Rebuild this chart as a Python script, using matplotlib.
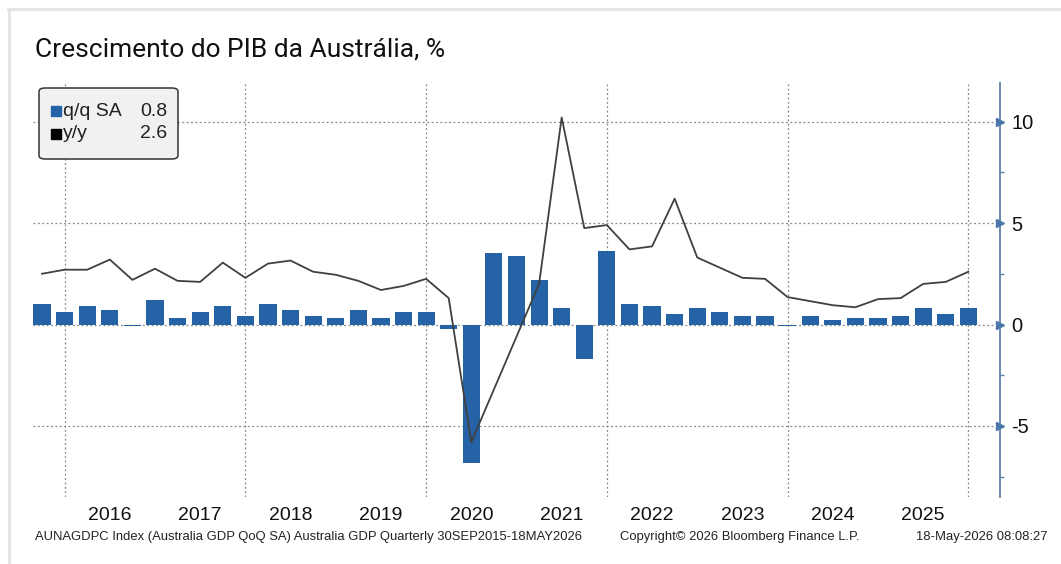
import numpy as np
import matplotlib
matplotlib.use("Agg")
import matplotlib.pyplot as plt
from matplotlib.patches import FancyBboxPatch
from matplotlib.lines import Line2D

plt.rcParams["axes.unicode_minus"] = False

# quarterly data, Q3 2015 .. Q4 2025 (plotted at quarter end)
quarters = ["2015Q3", "2015Q4",
            "2016Q1", "2016Q2", "2016Q3", "2016Q4",
            "2017Q1", "2017Q2", "2017Q3", "2017Q4",
            "2018Q1", "2018Q2", "2018Q3", "2018Q4",
            "2019Q1", "2019Q2", "2019Q3", "2019Q4",
            "2020Q1", "2020Q2", "2020Q3", "2020Q4",
            "2021Q1", "2021Q2", "2021Q3", "2021Q4",
            "2022Q1", "2022Q2", "2022Q3", "2022Q4",
            "2023Q1", "2023Q2", "2023Q3", "2023Q4",
            "2024Q1", "2024Q2", "2024Q3", "2024Q4",
            "2025Q1", "2025Q2", "2025Q3", "2025Q4"]
qoq = [1.0, 0.6,
       0.9, 0.7, -0.05, 1.2,
       0.3, 0.6, 0.9, 0.4,
       1.0, 0.7, 0.4, 0.3,
       0.7, 0.3, 0.6, 0.6,
       -0.2, -6.8, 3.5, 3.4,
       2.2, 0.8, -1.7, 3.6,
       1.0, 0.9, 0.5, 0.8,
       0.6, 0.4, 0.4, -0.05,
       0.4, 0.2, 0.3, 0.3,
       0.4, 0.8, 0.5, 0.8]
yoy = [2.5, 2.7,
       2.7, 3.2, 2.2, 2.75,
       2.15, 2.1, 3.05, 2.3,
       3.0, 3.15, 2.6, 2.45,
       2.15, 1.7, 1.9, 2.25,
       1.3, -5.8, -3.2, -0.6,
       2.0, 10.2, 4.75, 4.9,
       3.7, 3.85, 6.2, 3.3,
       2.8, 2.3, 2.25, 1.35,
       1.15, 0.95, 0.85, 1.25,
       1.3, 2.0, 2.1, 2.6]
years = list(range(2016, 2026))
grid_years = [2016, 2018, 2020, 2022, 2024, 2026]
yticks = [-5, 0, 5, 10]

title = "Crescimento do PIB da Austrália, %"
footer_left = "AUNAGDPC Index (Australia GDP QoQ SA) Australia GDP Quarterly 30SEP2015-18MAY2026"
footer_mid = "Copyright\u00a9 2026 Bloomberg Finance L.P."
footer_right = "18-May-2026 08:08:27"

# quarter end as decimal year
xq = np.array([int(q[:4]) + int(q[-1]) * 0.25 for q in quarters])

W, H = 1061, 564
fig = plt.figure(figsize=(W / 100, H / 100), dpi=100)
fig.patch.set_facecolor("white")

def fx(px):
    return px / W

def fy(py):
    return 1 - py / H

# thin frame lines of the screenshot
fig.add_artist(Line2D([fx(8), 1], [fy(9), fy(9)], color="#e4e4e4", lw=2))
fig.add_artist(Line2D([fx(9), fx(9)], [fy(9), 0], color="#e4e4e4", lw=2))

ax = fig.add_axes([fx(33), fy(497), fx(1000) - fx(33), fy(83) - fy(497)])
ax.set_facecolor("white")

blue = "#2563a6"
ax.bar(xq, qoq, width=0.19, color=blue, zorder=3)
ax.plot(xq, yoy, color="#404040", lw=1.3, zorder=4)

ax.set_xlim(2015.65, 2026.35)
ax.set_ylim(-8.5, 11.9)

# grid
for g in grid_years:
    ax.axvline(g, color="#888888", lw=0.9, ls=(0, (1.5, 2)), zorder=1)
for t in yticks:
    ax.axhline(t, color="#888888", lw=0.9, ls=(0, (1.5, 2)), zorder=1)

# right axis
for s in ["left", "top", "bottom"]:
    ax.spines[s].set_visible(False)
ax.spines["right"].set_color("#5b80aa")
ax.spines["right"].set_linewidth(1.3)
ax.yaxis.tick_right()
ax.set_yticks(yticks)
ax.set_yticks([-7.5, -2.5, 2.5, 7.5], minor=True)
ax.tick_params(axis="y", which="major", length=0, pad=8, labelsize=14.5,
               labelcolor="#111111")
ax.tick_params(axis="y", which="minor", length=3, direction="out",
               color="#5b80aa", width=1)
for lab in ax.get_yticklabels():
    lab.set_family(["Liberation Sans", "DejaVu Sans"])
ax.plot(np.full(len(yticks), 1.0), yticks, marker=">", ms=6, color="#4a78ab",
        ls="none", transform=ax.get_yaxis_transform(), clip_on=False, zorder=5)

ax.set_xticks([])
for y in years:
    ax.text(y + 0.5, -19 / 414, str(y), transform=ax.get_xaxis_transform(),
            ha="center", va="center", fontsize=14,
            family=["Liberation Sans", "DejaVu Sans"], color="#111111")

# title
fig.text(fx(35), fy(50), title, ha="left", va="center", fontsize=19,
         family=["Roboto", "DejaVu Sans"], color="#111111")

# legend box
box = FancyBboxPatch((fx(39), fy(159)), fx(178) - fx(39), fy(88) - fy(159),
                     boxstyle="round,pad=0,rounding_size=0.006",
                     transform=fig.transFigure, facecolor="#f1f1f1",
                     edgecolor="#333333", lw=1.1, zorder=10)
fig.add_artist(box)
leg_font = ["Liberation Sans", "DejaVu Sans"]
fig.add_artist(plt.Rectangle((fx(51), fy(116)), fx(10), 10 / H, color=blue,
                             transform=fig.transFigure, zorder=11))
fig.add_artist(plt.Rectangle((fx(51), fy(139)), fx(10), 10 / H, color="black",
                             transform=fig.transFigure, zorder=11))
fig.text(fx(63), fy(111), "q/q SA", ha="left", va="center", fontsize=14,
         family=leg_font, color="#222222", zorder=12)
fig.text(fx(167), fy(111), f"{qoq[-1]:.1f}", ha="right", va="center",
         fontsize=14, family=leg_font, color="#222222", zorder=12)
fig.text(fx(63), fy(134), "y/y", ha="left", va="center", fontsize=14,
         family=leg_font, color="#222222", zorder=12)
fig.text(fx(167), fy(134), f"{yoy[-1]:.1f}", ha="right", va="center",
         fontsize=14, family=leg_font, color="#222222", zorder=12)

# footer
foot = dict(fontsize=9.4, family=["Liberation Sans", "DejaVu Sans"],
            color="#222222", va="center")
fig.text(fx(35), fy(537), footer_left, ha="left", **foot)
fig.text(fx(620), fy(537), footer_mid, ha="left", **foot)
fig.text(fx(1048), fy(537), footer_right, ha="right", **foot)

fig.savefig("out.png", dpi=100)
